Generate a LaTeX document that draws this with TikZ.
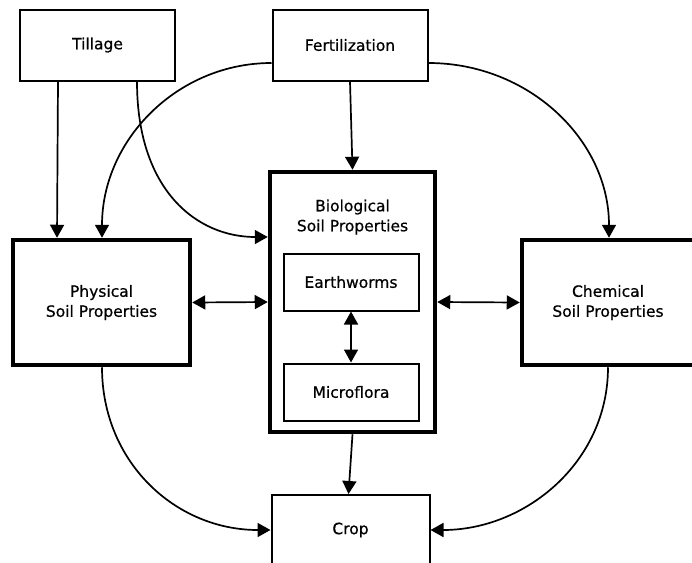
\documentclass[tikz,border=0pt]{standalone}
\usepackage{fontspec}
\setmainfont[FakeBold=0.6]{DejaVu Sans}
\usetikzlibrary{arrows.meta}
\begin{document}
\begin{tikzpicture}[x=1pt,y=-1pt,
  txt/.style={align=center, inner sep=0pt, font=\fontsize{15.5}{20}\selectfont},
  thinbox/.style={txt, draw, line width=2pt},
  thickbox/.style={txt, draw, line width=4.5pt},
  conn/.style={line width=1.7pt, -{Triangle[length=13pt,width=14pt]}},
  biconn/.style={line width=1.7pt, {Triangle[length=13pt,width=14pt]}-{Triangle[length=13pt,width=14pt]}}]
\useasboundingbox (0,0) rectangle (692,562);
\clip (0,0) rectangle (692,562);
\node[thinbox, minimum width=155pt, minimum height=71pt] (till) at (97.5,45) {Tillage};
\node[thinbox, minimum width=155pt, minimum height=71pt] (fert) at (350,45) {Fertilization};
\node[thickbox, minimum width=165pt, minimum height=260pt] (bio) at (352.5,302) {};
\node[txt] (biot) at (352.5,217) {Biological\\Soil Properties};
\node[thinbox, minimum width=135pt, minimum height=57pt] (ew) at (351,282) {Earthworms};
\node[thinbox, minimum width=135pt, minimum height=57pt] (mf) at (351,392) {Microflora};
\node[thickbox, minimum width=177pt, minimum height=125pt] (phys) at (101.5,302.5) {Physical\\Soil Properties};
\node[thickbox, minimum width=172pt, minimum height=125pt] (chem) at (608,302.5) {Chemical\\Soil Properties};
\node[thinbox, minimum width=158pt, minimum height=70pt] (crop) at (350.5,530) {Crop};

\draw[conn] ([xshift=-39.5pt]till.south) -- ([xshift=-44.5pt]phys.north);
\draw[conn] ([xshift=39.5pt]till.south) .. controls +(0,110) and +(-70,0) .. ([yshift=65pt]bio.west);
\draw[conn] ([yshift=-18pt]fert.west) .. controls +(-94,0) and +(0,-98) .. ([xshift=0.5pt]phys.north);
\draw[conn] ([yshift=-18pt]fert.east) .. controls +(100,0) and +(0,-98) .. ([xshift=1pt]chem.north);
\draw[conn] (fert.south) -- (bio.north);
\draw[biconn] (phys.east) -- (bio.west);
\draw[biconn] (bio.east) -- (chem.west);
\draw[biconn] (ew.south) -- (mf.north);
\draw[conn] (bio.south) -- ([xshift=-2pt]crop.north);
\draw[conn] ([xshift=0.5pt]phys.south) .. controls +(0,95) and +(-95,0) .. (crop.west);
\draw[conn] (chem.south) .. controls +(0,95) and +(95,0) .. (crop.east);
\end{tikzpicture}
\end{document}
